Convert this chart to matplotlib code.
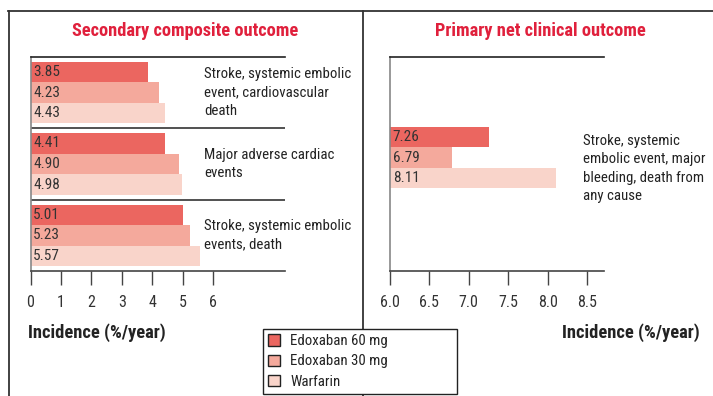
import matplotlib
matplotlib.use("Agg")
import matplotlib.pyplot as plt
import matplotlib.transforms as mtransforms
from matplotlib.patches import Patch
from matplotlib.lines import Line2D

# ---- data -------------------------------------------------------------
treatments = ["Edoxaban 60 mg", "Edoxaban 30 mg", "Warfarin"]
bar_colors = ["#EB6660", "#F4A99C", "#F9D4CA"]

secondary_title = "Secondary composite outcome"
secondary_outcomes = [
    "Stroke, systemic embolic\nevent, cardiovascular\ndeath",
    "Major adverse cardiac\nevents",
    "Stroke, systemic embolic\nevents, death",
]
secondary_values = [
    [3.85, 4.23, 4.43],
    [4.41, 4.90, 4.98],
    [5.01, 5.23, 5.57],
]
secondary_ticks = [0, 1, 2, 3, 4, 5, 6]

primary_title = "Primary net clinical outcome"
primary_outcome = "Stroke, systemic\nembolic event, major\nbleeding, death from\nany cause"
primary_values = [7.26, 6.79, 8.11]
primary_ticks = [6.0, 6.5, 7.0, 7.5, 8.0, 8.5]

x_label = "Incidence (%/year)"

# ---- style ------------------------------------------------------------
plt.rcParams["font.family"] = ["Roboto Condensed", "DejaVu Sans"]
plt.rcParams["font.stretch"] = "condensed"
TITLE_RED = "#E0203C"
DARK = "#333333"
FS_VAL = 11
FS_CAT = 10.7
FS_TICK = 11.5

W, H = 713, 396
fig = plt.figure(figsize=(W / 100, H / 100), dpi=100)


def fx(px):
    return px / W


def fy(py):
    return 1 - py / H


def style_axis(ax, ticks, fmt):
    ax.set_xticks(ticks)
    ax.set_xticklabels([fmt(t) for t in ticks])
    ax.set_yticks([])
    ax.tick_params(axis="x", direction="out", length=10, width=1,
                   color="#444444", labelsize=FS_TICK, labelcolor=DARK, pad=7)
    ax.spines["right"].set_visible(False)
    ax.spines["top"].set_color("#222222")
    ax.spines["top"].set_linewidth(1.2)
    ax.spines["bottom"].set_color("#444444")
    ax.spines["bottom"].set_linewidth(1.2)
    ax.spines["left"].set_color("#888888")
    ax.spines["left"].set_linewidth(1.2)
    ax.patch.set_alpha(0)


# ---- left panel: secondary composite outcomes -------------------------
ax1 = fig.add_axes([fx(30.5), fy(271), fx(285) - fx(30.5), 214 / H])
ax1.set_xlim(0, 8.37)
ax1.set_ylim(3, 0)
bar_h = 0.288
pad = (1 - 3 * bar_h) / 2
for g, vals in enumerate(secondary_values):
    for k, v in enumerate(vals):
        yc = g + pad + bar_h / 2 + k * bar_h
        ax1.barh(yc, v, height=bar_h, color=bar_colors[k], edgecolor="none")
        ax1.annotate(f"{v:.2f}", (0, yc), xytext=(2, 0), textcoords="offset points",
                     va="center", ha="left", fontsize=FS_VAL, color=DARK)
    trans = mtransforms.blended_transform_factory(ax1.transAxes, ax1.transData)
    ax1.text(0.682, g + 0.5, secondary_outcomes[g], transform=trans, va="center",
             ha="left", fontsize=FS_CAT, color="#222222", linespacing=1.38, clip_on=False)
    if g > 0:
        ax1.axhline(g, color="#333333", lw=1.2)
style_axis(ax1, secondary_ticks, lambda t: f"{t:d}")

# ---- right panel: primary net clinical outcome ------------------------
ax2 = fig.add_axes([fx(390), fy(271), 214 / W, 214 / H])
ax2.set_xlim(6.0, 8.716)
ax2.set_ylim(1, 0)
bh = 0.0953
top = 0.327
for k, v in enumerate(primary_values):
    yc = top + bh / 2 + k * bh
    ax2.barh(yc, v, height=bh, color=bar_colors[k], edgecolor="none")
    ax2.annotate(f"{v:.2f}", (6.0, yc), xytext=(2, 0), textcoords="offset points",
                 va="center", ha="left", fontsize=FS_VAL, color=DARK)
ax2.text(0.902, 0.479, primary_outcome, transform=ax2.transAxes, va="center",
         ha="left", fontsize=FS_CAT, color="#222222", linespacing=1.38, clip_on=False)
style_axis(ax2, primary_ticks, lambda t: f"{t:.1f}")

# ---- titles and axis captions -----------------------------------------
fig.text(fx(185), fy(31.5), secondary_title, ha="center", va="center",
         fontsize=13.2, fontweight="bold", color=TITLE_RED)
fig.text(fx(540), fy(31.5), primary_title, ha="center", va="center",
         fontsize=13.2, fontweight="bold", color=TITLE_RED)
fig.text(fx(28), fy(333), x_label, ha="left", va="center",
         fontsize=13.3, fontweight="bold", color="#222222")
fig.text(fx(700), fy(333), x_label, ha="right", va="center",
         fontsize=13.3, fontweight="bold", color="#222222")

# ---- panel frame ------------------------------------------------------
frame_kw = dict(color="#333333", lw=1.3, transform=fig.transFigure)
fig.add_artist(Line2D([fx(8), 1], [fy(10.5), fy(10.5)], **frame_kw))
fig.add_artist(Line2D([fx(8.5), fx(8.5)], [fy(10.5), 0], **frame_kw))
fig.add_artist(Line2D([fx(363), fx(363)], [fy(10.5), 0], **frame_kw))

# ---- legend -----------------------------------------------------------
handles = [Patch(facecolor=c, edgecolor="#222222", linewidth=1.0) for c in bar_colors]
leg = fig.legend(handles, treatments, loc="upper left",
                 bbox_to_anchor=(fx(263), fy(329), fx(457) - fx(263), 0),
                 mode="expand", fontsize=FS_CAT, frameon=True, fancybox=False,
                 edgecolor="#222222", facecolor="white", framealpha=1,
                 handlelength=0.8, handleheight=0.8, handletextpad=0.7,
                 labelspacing=0.42, borderpad=0.35, borderaxespad=0)
leg.get_frame().set_linewidth(1.0)
for t in leg.get_texts():
    t.set_color("#222222")

fig.savefig("out.png", dpi=100)
